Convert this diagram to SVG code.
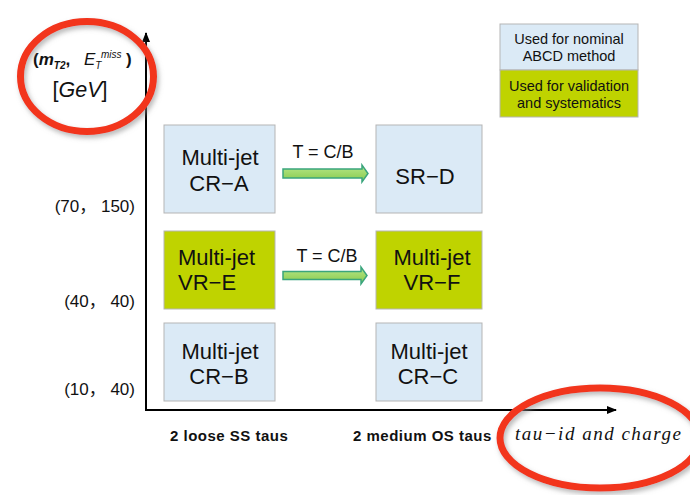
<svg xmlns="http://www.w3.org/2000/svg" width="690" height="495" viewBox="0 0 690 495">
<style>
.box{stroke:#b5b5b5;stroke-width:1}
.blue{fill:#dbeaf6}
.green{fill:#bfd300}
.bt{font-family:"Liberation Sans",Arial,sans-serif;font-size:22px;fill:#111;text-anchor:middle}
.lt{font-family:"Liberation Sans",Arial,sans-serif;font-size:14.5px;fill:#111;text-anchor:middle}
.at{font-family:"Liberation Sans",Arial,sans-serif;font-size:18px;fill:#111;text-anchor:middle}
.yl{font-family:"Liberation Sans","Noto Sans CJK SC",sans-serif;font-size:17px;fill:#111;text-anchor:end}
.xl{font-family:"Liberation Sans",Arial,sans-serif;font-size:15px;font-weight:bold;fill:#111;letter-spacing:0.5px}
.axis{stroke:#000;stroke-width:2;fill:none}
.garrow{fill:url(#gg);stroke:#3aa57c;stroke-width:1.5}
.ring{fill:none;stroke:#f2341c;stroke-width:7;filter:url(#sh)}
.tt{font-family:"Liberation Sans",Arial,sans-serif;fill:#111}
</style>
<defs>
<marker id="ah" markerWidth="10" markerHeight="8" refX="9" refY="4" orient="auto" markerUnits="userSpaceOnUse">
<path d="M0,0 L10,4 L0,8 Z" fill="#000"/>
</marker>
<linearGradient id="gg" x1="0" y1="0" x2="0" y2="1">
<stop offset="0" stop-color="#b8e88a"/>
<stop offset="1" stop-color="#86c94a"/>
</linearGradient>
<filter id="sh" x="-20%" y="-20%" width="140%" height="140%">
<feDropShadow dx="2" dy="3" stdDeviation="2.5" flood-color="#888" flood-opacity="0.6"/>
</filter>
</defs>

<g id="connectors">
<line class="axis" x1="146" y1="411" x2="146" y2="33" marker-end="url(#ah)"/>
<line class="axis" x1="145" y1="410" x2="616" y2="410" marker-end="url(#ah)"/>
<polygon class="garrow" points="283,169 362,169 362,165 368,173.5 362,182 362,178 283,178"/>
<polygon class="garrow" points="283,271.5 361,271.5 361,267 367,275.5 361,284 361,279.5 283,279.5"/>
<text class="at" x="323" y="158">T = C/B</text>
<text class="at" x="327" y="262">T = C/B</text>
</g>

<g id="legend">
<rect class="box blue" x="500" y="24" width="138" height="46"/>
<rect class="box green" x="500" y="70" width="138" height="47"/>
<text class="lt" x="569" y="44">Used for nominal</text>
<text class="lt" x="569" y="61">ABCD method</text>
<text class="lt" x="569" y="91">Used for validation</text>
<text class="lt" x="569" y="108">and systematics</text>
</g>

<g id="crA">
<rect class="box blue" x="164" y="125" width="111" height="88"/>
<text class="bt" x="220" y="165">Multi-jet</text>
<text class="bt" x="219" y="191">CR−A</text>
</g>
<g id="srD">
<rect class="box blue" x="376" y="125" width="106" height="88"/>
<text class="bt" x="425" y="184">SR−D</text>
</g>
<g id="vrE">
<rect class="box green" x="164" y="231" width="111" height="78"/>
<text class="bt" x="178" y="265" style="text-anchor:start">Multi-jet</text>
<text class="bt" x="178" y="290" style="text-anchor:start">VR−E</text>
</g>
<g id="vrF">
<rect class="box green" x="376" y="231" width="106" height="78"/>
<text class="bt" x="432" y="265">Multi-jet</text>
<text class="bt" x="432" y="290">VR−F</text>
</g>
<g id="crB">
<rect class="box blue" x="164" y="323" width="111" height="78"/>
<text class="bt" x="220" y="359">Multi-jet</text>
<text class="bt" x="219" y="384">CR−B</text>
</g>
<g id="crC">
<rect class="box blue" x="376" y="323" width="106" height="78"/>
<text class="bt" x="429" y="359">Multi-jet</text>
<text class="bt" x="428" y="384">CR−C</text>
</g>

<g id="ylabels">
<text class="yl" x="135" y="212">(70， 150)</text>
<text class="yl" x="135" y="307">(40， 40)</text>
<text class="yl" x="135" y="395">(10， 40)</text>
</g>

<g id="xlabels">
<text class="xl" x="170" y="441">2 loose SS taus</text>
<text class="xl" x="353" y="441">2 medium OS taus</text>
</g>

<g id="ytitle">
<text class="tt" x="33" y="65" font-size="17" font-weight="bold">(<tspan font-style="italic">m</tspan><tspan dy="4" font-size="10" font-style="italic">T2</tspan><tspan dy="-4">,</tspan></text>
<text class="tt" x="84" y="65" font-size="17" font-style="italic">E<tspan dy="4" font-size="10">T</tspan></text>
<text class="tt" x="101" y="58" font-size="10" font-style="italic">miss</text>
<text class="tt" x="126" y="65" font-size="17" font-weight="bold">)</text>
<text class="tt" x="80" y="97" font-size="21.5" text-anchor="middle">[<tspan font-style="italic">GeV</tspan>]</text>
</g>

<g id="xtitle">
<text x="515" y="440" font-family="Liberation Serif,serif" font-style="italic" font-size="19" letter-spacing="1.5" fill="#111">tau−id and charge</text>
</g>

<g id="rings">
<ellipse class="ring" cx="87" cy="76.5" rx="66.5" ry="55"/>
<ellipse class="ring" cx="600" cy="438" rx="100" ry="50"/>
</g>
</svg>
